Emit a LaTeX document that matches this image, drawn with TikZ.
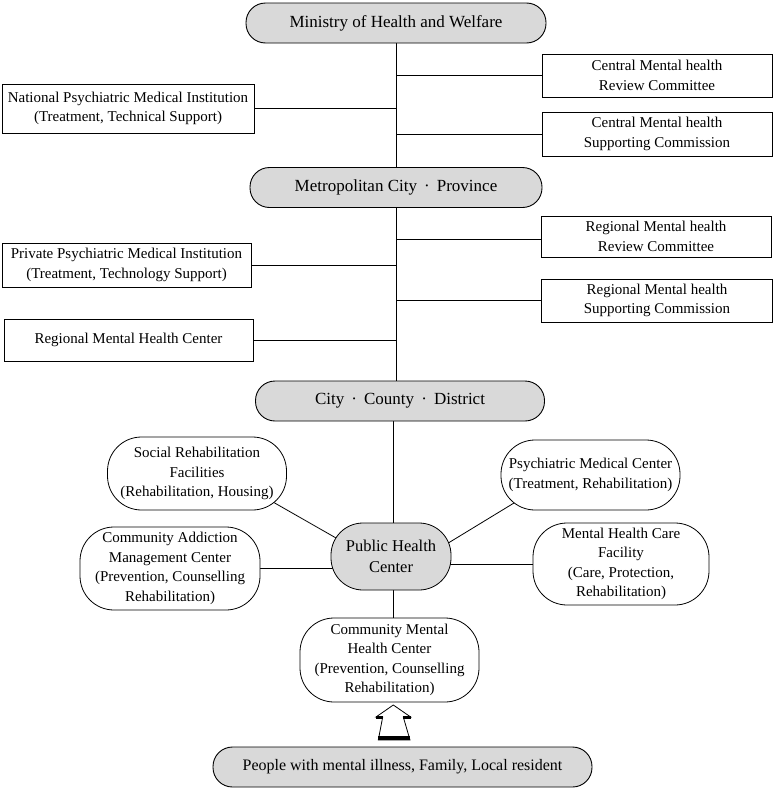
\documentclass[tikz,border=0pt]{standalone}
\usepackage{fontspec}
\setmainfont{Liberation Serif}
\usetikzlibrary{backgrounds}
\begin{document}
\begin{tikzpicture}[x=1pt,y=-1pt,
  txt/.style={font=\fontsize{15}{19.5}\selectfont, align=center, inner sep=0pt},
  gbox/.style={draw, line width=0.9pt, fill=black!15, rounded corners=19.5pt, minimum height=40pt, font=\fontsize{17}{20}\selectfont, inner sep=0pt},
  rbox/.style={txt, draw, line width=0.8pt, fill=white},
  obox/.style={txt, draw, line width=0.8pt, fill=white, rounded corners=34pt},
  conn/.style={line width=0.8pt}]
\useasboundingbox (0,0) rectangle (775,790);

\node[gbox, minimum width=300pt] (min) at (396,23) {Ministry of Health and Welfare};
\node[rbox, minimum width=230pt, minimum height=43pt] (crc) at (657,75.5) {Central Mental health\\Review Committee};
\node[rbox, minimum width=252pt, minimum height=49pt] (nat) at (128,108.5) {National Psychiatric Medical Institution\\(Treatment, Technical Support)};
\node[rbox, minimum width=230pt, minimum height=44pt] (csc) at (657,134) {Central Mental health\\Supporting Commission};
\node[gbox, minimum width=292pt] (met) at (396,187.5) {Metropolitan City \,·\, Province};
\node[rbox, minimum width=230pt, minimum height=41pt] (rrc) at (656,236.5) {Regional Mental health\\Review Committee};
\node[rbox, minimum width=249pt, minimum height=44pt] (pri) at (126.5,265) {Private Psychiatric Medical Institution\\(Treatment, Technology Support)};
\node[rbox, minimum width=231pt, minimum height=43pt] (rsc) at (657,300.5) {Regional Mental health\\Supporting Commission};
\node[rbox, minimum width=249pt, minimum height=42pt] (rmh) at (128.5,340) {Regional Mental Health Center};
\node[gbox, minimum width=289pt] (cty) at (400,401) {City \,·\, County \,·\, District};

\node[obox, minimum width=120pt, minimum height=67pt, rounded corners=32pt, fill=black!15, font=\fontsize{16.5}{21}\selectfont] (phc) at (391,556.5) {Public Health\\Center};
\node[obox, minimum width=179pt, minimum height=73pt] (soc) at (197,473.5) {Social Rehabilitation\\Facilities\\(Rehabilitation, Housing)};
\node[obox, minimum width=179pt, minimum height=70pt] (psy) at (590.5,475) {Psychiatric Medical Center\\(Treatment, Rehabilitation)};
\node[obox, minimum width=180pt, minimum height=83pt] (add) at (170,568.5) {Community Addiction\\Management Center\\(Prevention, Counselling\\Rehabilitation)};
\node[obox, minimum width=176pt, minimum height=82pt] (mhc) at (621,564) {Mental Health Care\\Facility\\(Care, Protection,\\Rehabilitation)};
\node[obox, minimum width=179pt, minimum height=84pt] (cmh) at (389.5,660) {Community Mental\\Health Center\\(Prevention, Counselling\\Rehabilitation)};
\node[gbox, minimum width=379pt, font=\fontsize{16}{20}\selectfont] (ppl) at (402.5,767) {People with mental illness, Family, Local resident};

% block arrow
\draw[line width=0.8pt, fill=white, line join=miter] (393.3,705) -- (410.7,717) -- (403.3,717) -- (410,740) -- (378.3,740) -- (382.7,717) -- (376,717) -- cycle;
\fill (376,715.7) rectangle (382.7,719);
\fill (403.3,715.7) rectangle (410.7,719);
\fill (378.3,735.7) rectangle (410,740);

\begin{scope}[on background layer]
\fill[white] (0,0) rectangle (775,790);
\draw[conn] (min.center) -- (cty.center -| min.center);
\draw[conn] (crc.center) -- (crc.center -| min.center);
\draw[conn] (nat.center) -- (nat.center -| min.center);
\draw[conn] (csc.center) -- (csc.center -| min.center);
\draw[conn] ([yshift=-2.5pt]rrc.center) -- ([yshift=-2.5pt]rrc.center -| min.center);
\draw[conn] (pri.center) -- (pri.center -| min.center);
\draw[conn] (rsc.center) -- (rsc.center -| min.center);
\draw[conn] (rmh.center) -- (rmh.center -| min.center);
\draw[conn] ([xshift=2pt]phc.center) -- ([xshift=2pt]phc.center |- cty.center);
\draw[conn] ([yshift=14.9pt]soc.center) -- ([yshift=-12.9pt]phc.center);
\draw[conn] ([yshift=18.6pt]psy.center) -- ([yshift=-21.4pt]phc.center);
\draw[conn] (add.center) -- (add.center -| phc.center);
\draw[conn] (mhc.center) -- (mhc.center -| phc.center);
\draw[conn] ([xshift=2pt]phc.center) -- ([xshift=2pt]phc.center |- cmh.center);
\end{scope}
\end{tikzpicture}
\end{document}
